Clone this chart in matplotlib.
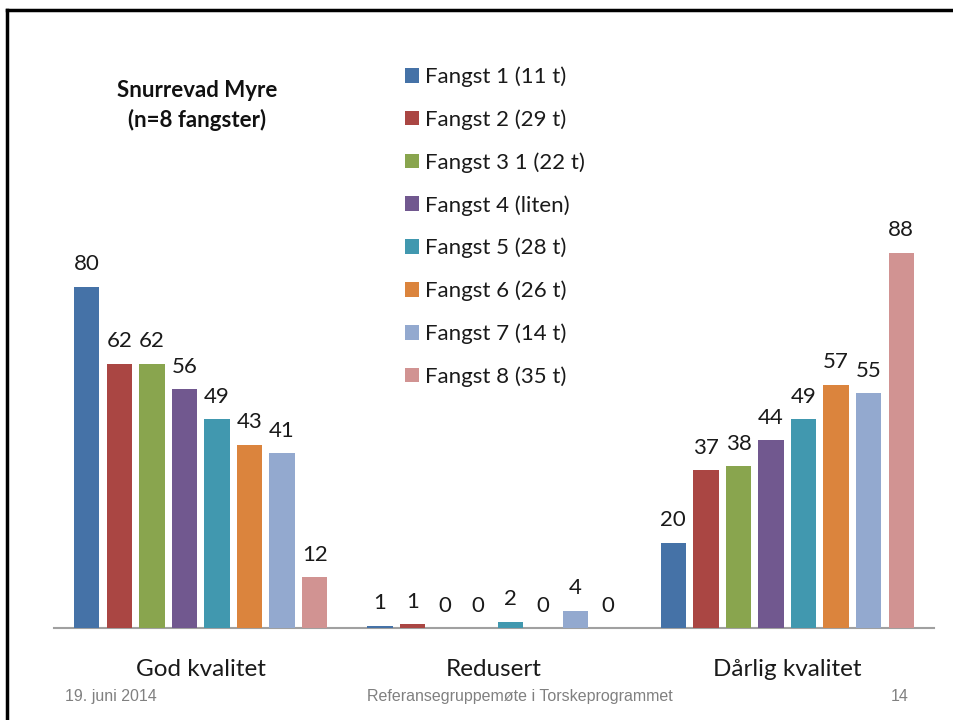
import numpy as np
import matplotlib
matplotlib.use("Agg")
import matplotlib.pyplot as plt
from matplotlib.lines import Line2D

categories = ["God kvalitet", "Redusert", "Dårlig kvalitet"]
series = ["Fangst 1 (11 t)", "Fangst 2 (29 t)", "Fangst 3 1 (22 t)", "Fangst 4 (liten)",
          "Fangst 5 (28 t)", "Fangst 6 (26 t)", "Fangst 7 (14 t)", "Fangst 8 (35 t)"]
god = [80, 62, 62, 56, 49, 43, 41, 12]
redusert = [0.6, 0.9, 0, 0, 1.5, 0, 4.1, 0]
redusert_labels = ["1", "1", "0", "0", "2", "0", "4", "0"]
darlig = [20, 37, 38, 44, 49, 57, 55, 88]
colors = ["#4572A7", "#AA4643", "#89A54E", "#71588F", "#4198AF", "#DB843D", "#93A9CF", "#D19392"]

plt.rcParams['font.family'] = ['Lato', 'DejaVu Sans']

fig = plt.figure(figsize=(9.54, 7.2), dpi=100)
ax = fig.add_axes([0.0566, 0.1274, 0.9224, 0.593])

values = np.array([god, redusert, darlig])
labels = [[str(v) for v in god], redusert_labels, [str(v) for v in darlig]]
x = np.arange(len(categories))
step = 0.111
width = 0.087

for j in range(len(series)):
    pos = x + (j - 3.5) * step
    bars = ax.bar(pos, values[:, j], width, color=colors[j], label=series[j], zorder=3)
    for i, b in enumerate(bars):
        ax.annotate(labels[i][j], (b.get_x() + b.get_width() / 2, b.get_height()),
                    xytext=(0, 9), textcoords="offset points", ha="center", va="bottom",
                    fontsize=16, color="#1a1a1a")

ax.set_xlim(-0.5, 2.5)
ax.set_ylim(0, 100)
ax.set_yticks([])
ax.set_xticks(x)
ax.set_xticklabels(categories, fontsize=17.5, color="#1a1a1a")
ax.tick_params(axis="x", length=0, pad=22)
for s in ["top", "right", "left"]:
    ax.spines[s].set_visible(False)
ax.spines["bottom"].set_color("#a0a0a0")
ax.spines["bottom"].set_linewidth(1.5)
ax.spines["bottom"].set_zorder(2)

leg = fig.legend(loc="upper left", bbox_to_anchor=(0.4245, 0.9076), frameon=False,
                 fontsize=16, handlelength=0.64, handleheight=0.64, handletextpad=0.28,
                 labelspacing=1.0, borderpad=0, borderaxespad=0)
for t in leg.get_texts():
    t.set_color("#1a1a1a")

fig.text(0.207, 0.853, "Snurrevad Myre\n(n=8 fangster)", ha="center", va="center",
         fontsize=16, fontweight="bold", linespacing=1.45, color="#111111")

fig.text(0.068, 0.033, "19. juni 2014", fontsize=11.5, color="#808080", family="Liberation Sans",
         va="center")
fig.text(0.545, 0.033, "Referansegruppemøte i Torskeprogrammet", fontsize=11.5, color="#808080",
         family="Liberation Sans", ha="center", va="center")
fig.text(0.943, 0.033, "14", fontsize=11.5, color="#808080", family="Liberation Sans",
         ha="center", va="center")

# slide border (left and top)
fig.add_artist(Line2D([0.0075, 0.0075], [0.0, 0.986], color="black", lw=2.5))
fig.add_artist(Line2D([0.0075, 1.0], [0.986, 0.986], color="black", lw=2.5))

fig.savefig("out.png", dpi=100)
